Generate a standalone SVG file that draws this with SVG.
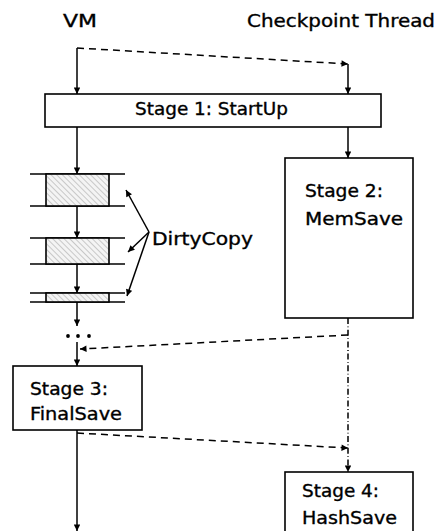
<svg xmlns="http://www.w3.org/2000/svg" width="443" height="531" viewBox="0 0 443 531">
<defs>
<style>
text{font-family:"DejaVu Sans","Liberation Sans",sans-serif;font-size:17.5px;fill:#000;stroke:#000;stroke-width:0.35}
.box{fill:#fff;stroke:#000;stroke-width:1.6}
.ln{fill:none;stroke:#000;stroke-width:1.5}
.ds{fill:none;stroke:#000;stroke-width:1.5;stroke-dasharray:7 5}
.dd{fill:none;stroke:#000;stroke-width:1.5;stroke-dasharray:6 2.5 0.8 2.5}
.hatch{fill:url(#hp);stroke:#000;stroke-width:1.6}
</style>
<marker id="ah" viewBox="0 0 10 10" refX="10" refY="5" markerWidth="9" markerHeight="6.5" markerUnits="userSpaceOnUse" orient="auto">
<path d="M0,0 L10,5 L0,10 z" fill="#000"/>
</marker>
<pattern id="hp" patternUnits="userSpaceOnUse" width="4" height="4" patternTransform="rotate(-45)">
<rect width="4" height="4" fill="#f4f4f4"/>
<line x1="0" y1="0" x2="0" y2="4" stroke="#888" stroke-width="0.8"/>
</pattern>
</defs>

<g id="labels">
<text x="63" y="27" textLength="34" lengthAdjust="spacingAndGlyphs">VM</text>
<text x="247" y="27" textLength="188" lengthAdjust="spacingAndGlyphs">Checkpoint Thread</text>
</g>

<g id="stage1">
<rect class="box" x="45" y="94" width="336" height="33"/>
<text x="135" y="115" textLength="153" lengthAdjust="spacingAndGlyphs">Stage 1: StartUp</text>
</g>

<g id="stage2">
<rect class="box" x="285" y="158" width="128" height="160"/>
<text x="305" y="197" textLength="78" lengthAdjust="spacingAndGlyphs">Stage 2:</text>
<text x="305" y="225" textLength="98" lengthAdjust="spacingAndGlyphs">MemSave</text>
</g>

<g id="dirty1">
<line class="ln" x1="30" y1="174" x2="125" y2="174"/>
<line class="ln" x1="30" y1="206" x2="125" y2="206"/>
<rect class="hatch" x="46" y="174" width="63" height="32"/>
</g>
<g id="dirty2">
<line class="ln" x1="30" y1="238" x2="125" y2="238"/>
<line class="ln" x1="30" y1="264" x2="125" y2="264"/>
<rect class="hatch" x="46" y="238" width="63" height="26"/>
</g>
<g id="dirty3">
<line class="ln" x1="30" y1="293" x2="125" y2="293"/>
<line class="ln" x1="30" y1="302" x2="125" y2="302"/>
<rect class="hatch" x="46" y="293" width="63" height="9"/>
</g>

<g id="dirtycopy">
<text x="152" y="245" textLength="101" lengthAdjust="spacingAndGlyphs">DirtyCopy</text>
</g>

<g id="dots">
<circle cx="68" cy="336" r="1.9"/>
<circle cx="78" cy="336" r="1.9"/>
<circle cx="89" cy="336" r="1.9"/>
</g>

<g id="stage3">
<rect class="box" x="13" y="366" width="129" height="64"/>
<text x="30" y="395" textLength="78" lengthAdjust="spacingAndGlyphs">Stage 3:</text>
<text x="30" y="420" textLength="92" lengthAdjust="spacingAndGlyphs">FinalSave</text>
</g>

<g id="stage4">
<rect class="box" x="285" y="472" width="128" height="70"/>
<text x="302" y="497" textLength="77" lengthAdjust="spacingAndGlyphs">Stage 4:</text>
<text x="302" y="524" textLength="95" lengthAdjust="spacingAndGlyphs">HashSave</text>
</g>

<g id="connectors">
<line class="ln" x1="77" y1="48" x2="77" y2="94" marker-end="url(#ah)"/>
<line class="ds" x1="77" y1="48" x2="348" y2="64" marker-end="url(#ah)"/>
<line class="ln" x1="348" y1="64" x2="348" y2="94" marker-end="url(#ah)"/>
<line class="ln" x1="348" y1="127" x2="348" y2="158" marker-end="url(#ah)"/>
<line class="ln" x1="77" y1="127" x2="77" y2="174" marker-end="url(#ah)"/>
<line class="ln" x1="77" y1="206" x2="77" y2="238" marker-end="url(#ah)"/>
<line class="ln" x1="77" y1="264" x2="77" y2="293" marker-end="url(#ah)"/>
<line class="ln" x1="77" y1="302" x2="77" y2="326" marker-end="url(#ah)"/>
<line class="ln" x1="149" y1="232" x2="126" y2="190" marker-end="url(#ah)"/>
<line class="ln" x1="149" y1="232" x2="128" y2="252" marker-end="url(#ah)"/>
<line class="ln" x1="149" y1="232" x2="127" y2="296" marker-end="url(#ah)"/>
<line class="dd" x1="348" y1="318" x2="348" y2="472" marker-end="url(#ah)"/>
<line class="ds" x1="348" y1="335" x2="80" y2="349" marker-end="url(#ah)"/>
<line class="ln" x1="77" y1="342" x2="77" y2="366" marker-end="url(#ah)"/>
<line class="ds" x1="77" y1="433" x2="348" y2="448" marker-end="url(#ah)"/>
<line class="ln" x1="77" y1="430" x2="77" y2="531" marker-end="url(#ah)"/>
</g>
</svg>
